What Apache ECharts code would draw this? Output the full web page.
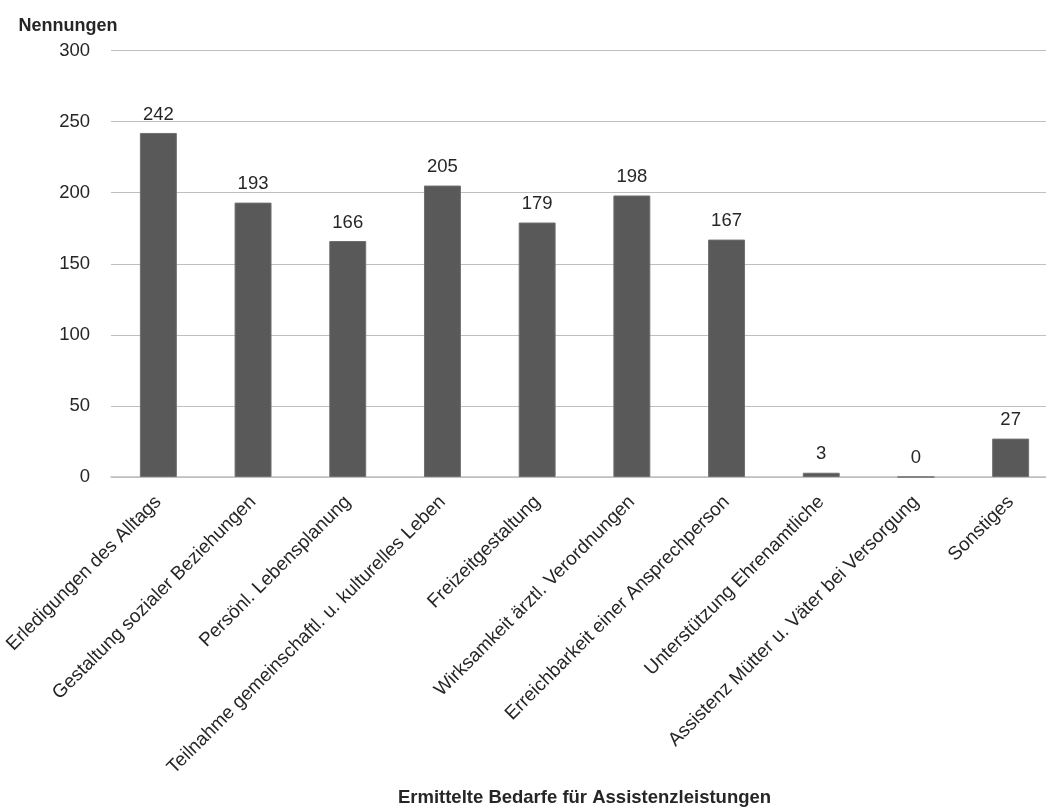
<!DOCTYPE html>
<html>
<head>
<meta charset="utf-8">
<script src="https://cdn.jsdelivr.net/npm/echarts@6/dist/echarts.min.js"></script>
<style>
  html, body { margin: 0; padding: 0; background: #fff; }
  #chart { width: 1046px; height: 808px; }
</style>
</head>
<body>
<div id="chart"></div>
<script>
// Bedarfe (categories) and number of mentions per category
const categories = [
  'Erledigungen des Alltags',
  'Gestaltung sozialer Beziehungen',
  'Persönl. Lebensplanung',
  'Teilnahme gemeinschaftl. u. kulturelles Leben',
  'Freizeitgestaltung',
  'Wirksamkeit ärztl. Verordnungen',
  'Erreichbarkeit einer Ansprechperson',
  'Unterstützung Ehrenamtliche',
  'Assistenz Mütter u. Väter bei Versorgung',
  'Sonstiges'
];
const nennungen = [242, 193, 166, 205, 179, 198, 167, 3, 0, 27];

const yTicks = { min: 0, max: 300, interval: 50 };
const xAxisTitle = 'Ermittelte Bedarfe für Assistenzleistungen';
const yAxisTitle = 'Nennungen';

const FONT = '"Liberation Sans", Arial, sans-serif';
const TEXT = '#262626';

const chart = echarts.init(document.getElementById('chart'), null, { renderer: 'canvas' });
chart.setOption({
  backgroundColor: '#ffffff',
  animation: false,
  grid: {
    left: 111, right: -12, top: 50.5, bottom: 331,
    containLabel: false, outerBoundsMode: 'none'
  },
  xAxis: {
    type: 'category',
    data: categories,
    name: xAxisTitle,
    nameLocation: 'middle',
    nameGap: 311,
    nameTextStyle: { fontFamily: FONT, fontSize: 18.5, fontWeight: 'bold', color: TEXT },
    axisLine: { show: true, lineStyle: { color: '#bfbfbf', width: 1.5 } },
    axisTick: { show: false },
    axisLabel: {
      interval: 0,
      rotate: 45,
      margin: 22,
      fontFamily: FONT,
      fontSize: 19,
      color: TEXT
    }
  },
  yAxis: {
    type: 'value',
    min: yTicks.min,
    max: yTicks.max,
    interval: yTicks.interval,
    name: yAxisTitle,
    nameLocation: 'end',
    nameGap: 15,
    nameTextStyle: {
      fontFamily: FONT, fontSize: 18, fontWeight: 'bold', color: TEXT,
      align: 'center', padding: [0, 86, 0, 0]
    },
    axisLine: { show: false },
    axisTick: { show: false },
    splitLine: { show: true, lineStyle: { color: '#bfbfbf', width: 1.2 } },
    axisLabel: { margin: 21, fontFamily: FONT, fontSize: 18.5, color: TEXT }
  },
  series: [{
    type: 'bar',
    data: nennungen,
    barCategoryGap: '61%',
    itemStyle: { color: '#595959', borderColor: '#6f6f6f', borderWidth: 1 },
    label: {
      show: true,
      position: 'top',
      distance: 9,
      fontFamily: FONT,
      fontSize: 18.5,
      color: TEXT
    }
  }]
});
</script>
</body>
</html>
